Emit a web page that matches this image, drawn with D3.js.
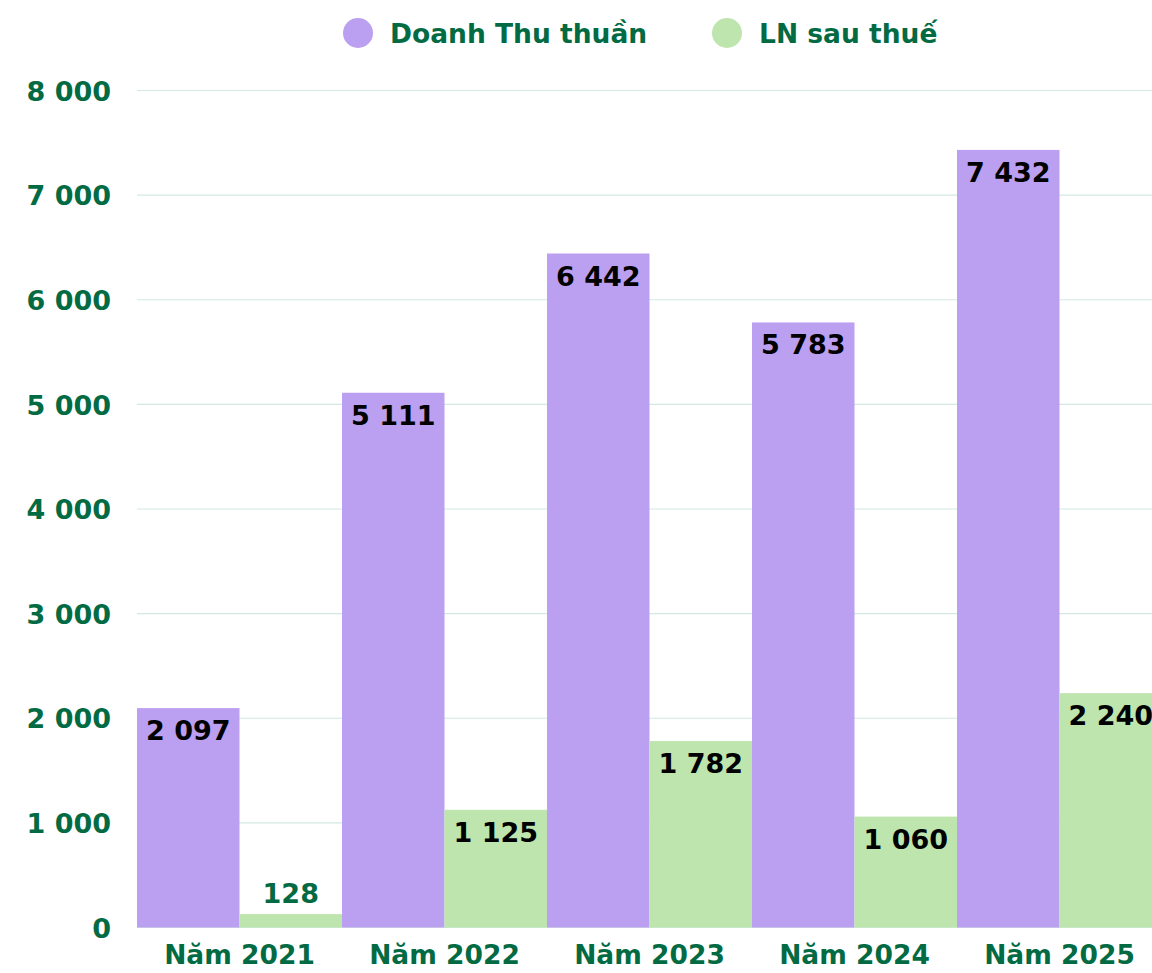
<!DOCTYPE html>
<html>
<head>
<meta charset="utf-8">
<script src="https://cdn.jsdelivr.net/npm/d3@7"></script>
<style>
  html, body { margin: 0; padding: 0; background: #fff; overflow: hidden; }
  svg { display: block; font-family: "DejaVu Sans", sans-serif; font-weight: 700; }
</style>
</head>
<body>
<svg id="chart" width="1152" height="973"></svg>
<script>
const categories = ["Năm 2021", "Năm 2022", "Năm 2023", "Năm 2024", "Năm 2025"];
const seriesNames = ["Doanh Thu thuần", "LN sau thuế"];
const revenue = [2097, 5111, 6442, 5783, 7432];
const profit = [128, 1125, 1782, 1060, 2240];
const yTicks = [0, 1000, 2000, 3000, 4000, 5000, 6000, 7000, 8000];
const colors = ["#bb9ff0", "#bde5ad"];

const green = "#036b43";
const FONT = "'DejaVu Sans', sans-serif";
const svg = d3.select("#chart");
const W = 1152;

const locale = d3.formatLocale({ decimal: ",", thousands: " ", grouping: [3], currency: ["", ""] });
const fmt = locale.format(",d");

const x = d3.scaleBand().domain(categories).range([137, 1162]).padding(0);
const xs = d3.scaleBand().domain([0, 1]).range([0, x.bandwidth()]).padding(0);
const y = d3.scaleLinear().domain([0, 8000]).range([927.5, 90.5]);

// gridlines
svg.append("g").selectAll("line").data(yTicks).join("line")
  .attr("x1", 137).attr("x2", W)
  .attr("y1", d => y(d)).attr("y2", d => y(d))
  .attr("stroke", "#d3e8e1").attr("stroke-width", 1.2);

// y axis labels
const yAxis = d3.axisLeft(y).tickValues(yTicks).tickFormat(fmt).tickSize(0).tickPadding(0);
const gy = svg.append("g").attr("transform", "translate(111,0)").call(yAxis);
gy.select(".domain").remove();
gy.selectAll("text").attr("fill", green).attr("font-size", 27)
  .attr("font-family", FONT).attr("font-weight", 700).attr("dy", "0.36em");

// x axis labels
const xAxis = d3.axisBottom(x).tickSize(0).tickPadding(0);
const gx = svg.append("g").attr("transform", "translate(0,939)").call(xAxis);
gx.select(".domain").remove();
gx.selectAll("text").attr("fill", green).attr("font-size", 26.5)
  .attr("font-family", FONT).attr("font-weight", 700).attr("dy", "0.95em");

const series = [revenue, profit];
const data = [];
series.forEach((vals, si) => vals.forEach((v, i) => data.push({ cat: categories[i], si, v })));

svg.append("g").selectAll("rect").data(data).join("rect")
  .attr("x", d => x(d.cat) + xs(d.si))
  .attr("width", xs.bandwidth())
  .attr("y", d => y(d.v))
  .attr("height", d => y(0) - y(d.v))
  .attr("fill", d => colors[d.si]);

svg.append("g").selectAll("text").data(data).join("text")
  .attr("x", d => x(d.cat) + xs(d.si) + xs.bandwidth() / 2)
  .attr("y", d => (y(0) - y(d.v)) > 45 ? y(d.v) + 32 : y(d.v) - 11)
  .attr("text-anchor", "middle")
  .attr("font-size", 27)
  .attr("fill", d => (y(0) - y(d.v)) > 45 ? "#000" : green)
  .text(d => fmt(d.v));

// legend
const legendX = [358, 727];
const lg = svg.append("g");
seriesNames.forEach((name, i) => {
  lg.append("circle").attr("cx", legendX[i]).attr("cy", 33).attr("r", 15).attr("fill", colors[i]);
  lg.append("text").attr("x", legendX[i] + 32).attr("y", 43)
    .attr("font-size", 26.5).attr("fill", green).text(name);
});
</script>
</body>
</html>
